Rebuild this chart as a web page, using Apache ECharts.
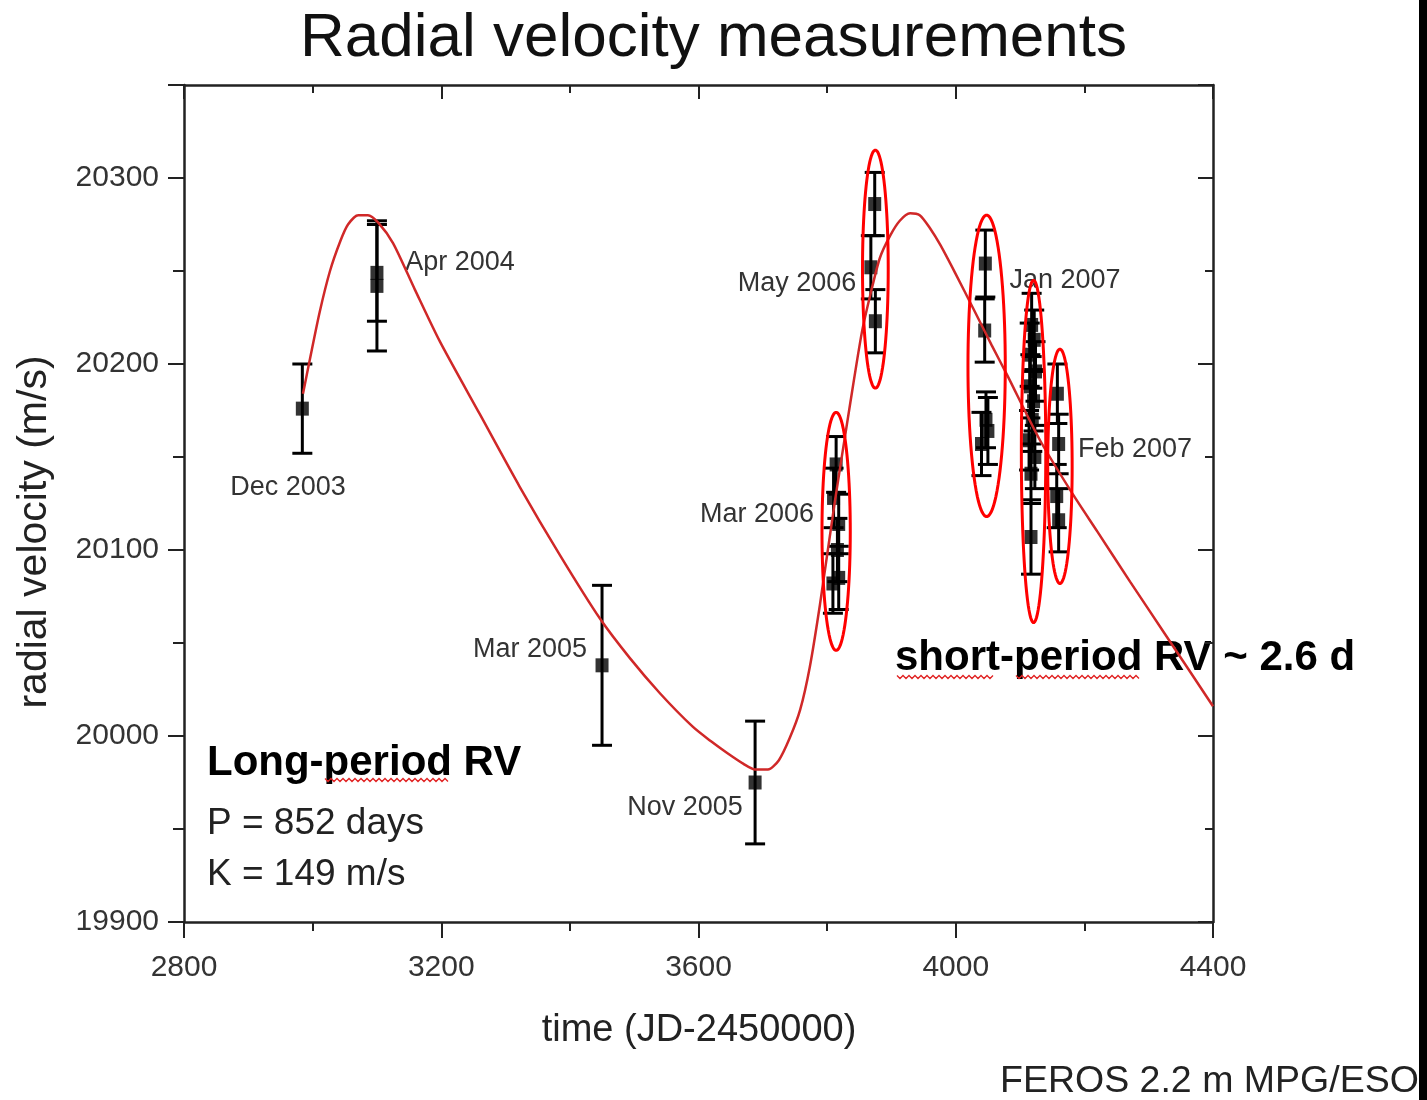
<!DOCTYPE html>
<html><head><meta charset="utf-8">
<script src="https://cdn.jsdelivr.net/npm/echarts@6/dist/echarts.min.js"></script>
<style>html,body{margin:0;padding:0;background:#fff}#c{width:1427px;height:1100px}</style>
</head><body><div id="c"></div>
<script>
// Fitted long-period curve
const fitTime = [2985,2996,3011,3027,3043,3055,3071,3086,3102,3125,3159,3198,3260,3322,3385,3447,3493,3540,3591,3620,3644,3670,3688,3708,3725,3742,3758,3773,3789,3812,3836,3854,3867,3882,3898,3913,3929,3944,3960,3976,3999,4027,4056,4080,4131,4182,4220,4271,4325,4400];
const fitVel  = [20184,20203,20228,20250,20266,20275,20280,20280,20276,20265,20240,20212,20173,20134,20097,20063,20042,20023,20005,19997,19991,19985,19982,19982,19987,19999,20014,20037,20071,20126,20179,20217,20237,20257,20269,20277,20281,20280,20273,20264,20249,20230,20210,20194,20159,20130,20110,20083,20055,20016];

// Measurements
const obsTime = [2984,3100,3100,3450,3688,
  3814,3810,3818,3816,3818,3809,
  3874,3868,3875,
  4046,4045,4040,4050,4047,
  4118,4122,4115,4124,4116,4121,4119,4114,4123,4117,4117,
  4158,4160,4157,4160];
const obsVel = [20176,20249,20242,20038,19975,
  20146,20128,20114,20100,20085,20082,
  20286,20252,20223,
  20254,20218,20157,20164,20170,
  20221,20213,20205,20196,20188,20180,20170,20159,20150,20141,20107,
  20184,20157,20129,20116];
const obsErr = [24,26,35,43,33,
  15,16,16,17,17,16,
  17,17,17,
  18,17,17,18,15,
  17,16,17,16,17,16,17,16,17,16,20,
  16,16,17,17];

// Red ellipses around short-period clusters: centre time, centre velocity, half-width (days), half-height (m/s)
const ellTime = [3814,3875,4048,4121,4162];
const ellVel  = [20110,20251,20199,20153,20145];
const ellHalfT = [22,20,29,19,19];
const ellHalfV = [64,64,81,92,63];

// Tick labels
const xTickLabels = ['2800','3200','3600','4000','4400'];
const yTickLabels = ['19900','20000','20100','20200','20300'];

// Point annotations
const pointLabels = ['Dec 2003','Apr 2004','Mar 2005','Nov 2005','Mar 2006','May 2006','Jan 2007','Feb 2007'];

const chart = echarts.init(document.getElementById('c'), null, {renderer:'canvas'});
const FONT = '"Liberation Sans", Arial, sans-serif';
const AX = '#222';

const fitData = fitTime.map((t,i)=>[t,fitVel[i]]);
const obsData = obsTime.map((t,i)=>[t,obsVel[i],obsErr[i]]);
const ellData = ellTime.map((t,i)=>[t,ellVel[i],ellHalfT[i],ellHalfV[i]]);

function zigzag(x0,x1,y){const p=[];let up=true;for(let x=x0;x<=x1;x+=3){p.push([x,up?y-1.5:y+1.5]);up=!up;}return p;}

const labelPos = [[288,488],[460,263],[530,650],[685,808],[757,515],[797,284],[1065,281],[1135,450]];

const graphics = [
  {type:'text', left:'center', top:8, style:{text:'Radial velocity measurements', font:'62px '+FONT, fill:'#111'}},
  {type:'text', x:699, y:1031, style:{text:'time (JD-2450000)', font:'38px '+FONT, fill:'#222', textAlign:'center', textVerticalAlign:'middle'}},
  {type:'text', x:35, y:532, rotation:Math.PI/2, style:{text:'radial velocity (m/s)', font:'41px '+FONT, fill:'#222', textAlign:'center', textVerticalAlign:'middle'}},
  {type:'text', x:207, y:763, style:{text:'Long-period RV', font:'bold 42px '+FONT, fill:'#000', textVerticalAlign:'middle'}},
  {type:'text', x:207, y:824, style:{text:'P = 852 days', font:'37px '+FONT, fill:'#222', textVerticalAlign:'middle'}},
  {type:'text', x:207, y:875, style:{text:'K = 149 m/s', font:'37px '+FONT, fill:'#222', textVerticalAlign:'middle'}},
  {type:'text', x:895, y:658, style:{text:'short-period RV ~ 2.6 d', font:'bold 42px '+FONT, fill:'#000', textVerticalAlign:'middle'}},
  {type:'text', x:1000, y:1082, style:{text:'FEROS 2.2 m MPG/ESO', font:'37.5px '+FONT, fill:'#222', textVerticalAlign:'middle'}},
  {type:'polyline', shape:{points:zigzag(325,450,780)}, style:{stroke:'#e02020', lineWidth:1.3, fill:null}},
  {type:'polyline', shape:{points:zigzag(897,995,677)}, style:{stroke:'#e02020', lineWidth:1.3, fill:null}},
  {type:'polyline', shape:{points:zigzag(1016,1140,677)}, style:{stroke:'#e02020', lineWidth:1.3, fill:null}},
  {type:'rect', shape:{x:1419,y:0,width:8,height:1100}, style:{fill:'#000'}}
];
pointLabels.forEach((s,i)=>{
  graphics.push({type:'text', x:labelPos[i][0], y:labelPos[i][1], style:{text:s, font:'27px '+FONT, fill:'#333', textAlign:'center', textVerticalAlign:'middle'}});
});

const lineStyle = {color:AX, width:2.5};
const tickStyle = {color:AX, width:2};

const option = {
  animation:false,
  backgroundColor:'#fff',
  grid:{left:184, right:214, top:85, bottom:178, containLabel:false},
  xAxis:[
    {type:'value', position:'bottom', min:2800, max:4400, interval:400,
     axisLine:{show:true, onZero:false, lineStyle},
     axisTick:{show:true, length:16, lineStyle:tickStyle},
     minorTick:{show:true, splitNumber:2, length:9, lineStyle:tickStyle},
     axisLabel:{margin:31, fontSize:30, color:'#333', fontFamily:FONT,
       formatter:v=>{const s=String(v);return xTickLabels.includes(s)?s:'';}},
     splitLine:{show:false}},
    {type:'value', position:'top', min:2800, max:4400, interval:400,
     axisLine:{show:true, onZero:false, lineStyle},
     axisTick:{show:true, inside:true, length:14, lineStyle:tickStyle},
     minorTick:{show:true, splitNumber:2, length:8, lineStyle:tickStyle},
     axisLabel:{show:false}, splitLine:{show:false}}
  ],
  yAxis:[
    {type:'value', position:'left', min:19900, max:20350, interval:100,
     axisLine:{show:true, onZero:false, lineStyle},
     axisTick:{show:true, length:16, lineStyle:tickStyle},
     axisLabel:{margin:25, fontSize:30, color:'#333', fontFamily:FONT,
       formatter:v=>{const s=String(v);return yTickLabels.includes(s)?s:'';}},
     splitLine:{show:false}},
    {type:'value', position:'left', min:19900, max:20350, interval:50,
     axisLine:{show:false}, axisTick:{show:true, length:11, lineStyle:tickStyle},
     axisLabel:{show:false}, splitLine:{show:false}},
    {type:'value', position:'right', min:19900, max:20350, interval:100,
     axisLine:{show:true, onZero:false, lineStyle},
     axisTick:{show:true, inside:true, length:15, lineStyle:tickStyle},
     axisLabel:{show:false}, splitLine:{show:false}},
    {type:'value', position:'right', min:19900, max:20350, interval:50,
     axisLine:{show:false}, axisTick:{show:true, inside:true, length:8, lineStyle:tickStyle},
     axisLabel:{show:false}, splitLine:{show:false}}
  ],
  series:[
    {type:'custom', name:'errors', xAxisIndex:0, yAxisIndex:0, z:2, data:obsData,
     encode:{x:0,y:1},
     renderItem:(params, api)=>{
       const x=api.value(0), y=api.value(1), e=api.value(2);
       const t=api.coord([x,y+e]), b=api.coord([x,y-e]);
       const w=10, st={stroke:'#000', lineWidth:3};
       return {type:'group', children:[
         {type:'line', shape:{x1:t[0],y1:t[1],x2:b[0],y2:b[1]}, style:st},
         {type:'line', shape:{x1:t[0]-w,y1:t[1],x2:t[0]+w,y2:t[1]}, style:st},
         {type:'line', shape:{x1:b[0]-w,y1:b[1],x2:b[0]+w,y2:b[1]}, style:st}
       ]};
     }},
    {type:'scatter', name:'points', xAxisIndex:0, yAxisIndex:0, z:3, data:obsData.map(d=>[d[0],d[1]]),
     symbol:'rect', symbolSize:[13,14], itemStyle:{color:'#000'}},
    {type:'line', name:'fit', xAxisIndex:0, yAxisIndex:0, z:4, data:fitData, smooth:0.25,
     showSymbol:false, lineStyle:{color:'#d02828', width:2.5}},
    {type:'custom', name:'ellipses', xAxisIndex:0, yAxisIndex:0, z:5, data:ellData,
     encode:{x:0,y:1},
     renderItem:(params, api)=>{
       const c=api.coord([api.value(0), api.value(1)]);
       const s=api.size([api.value(2), api.value(3)]);
       const pts=[];
       for(let i=0;i<=90;i++){const a=i/90*Math.PI*2;pts.push([c[0]+s[0]*Math.cos(a), c[1]+s[1]*Math.sin(a)]);}
       return {type:'polygon', shape:{points:pts}, style:{fill:null, stroke:'#ff0000', lineWidth:3}};
     }}
  ],
  graphic:graphics
};
chart.setOption(option);
</script>
</body></html>
